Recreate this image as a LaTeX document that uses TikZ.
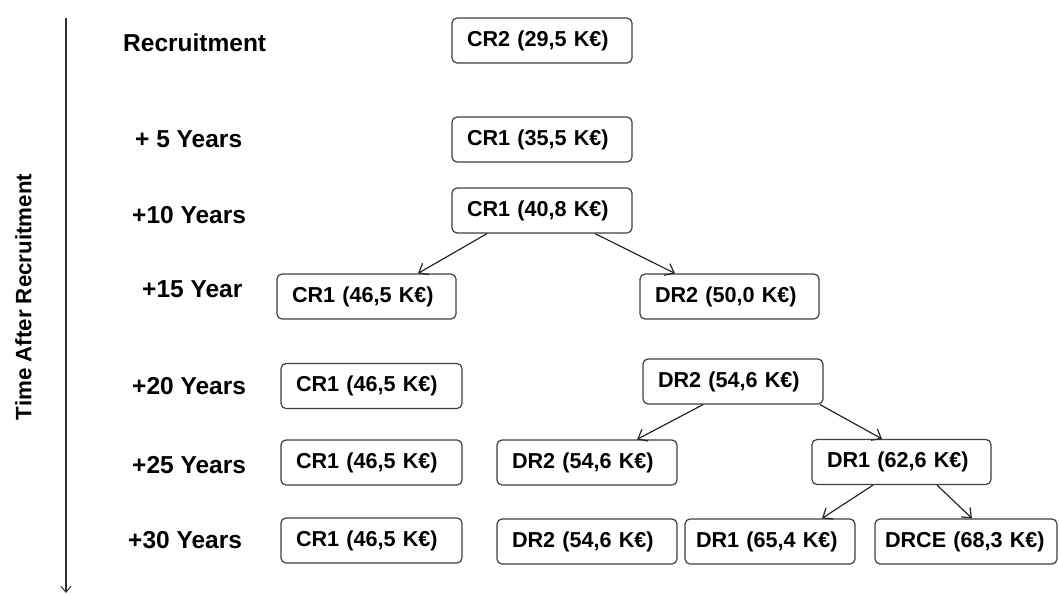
\documentclass[tikz,border=0pt]{standalone}
\usepackage{fontspec}
\setmainfont{Liberation Sans}
\usetikzlibrary{arrows.meta}
\begin{document}
\begin{tikzpicture}[x=1pt,y=-1pt,
  every node/.style={font=\bfseries},
  box/.style={draw=black!75, line width=1.2pt, rounded corners=5pt, fill=white,
    minimum height=45pt, inner ysep=0pt, inner xsep=15pt, text width=#1, align=left,
    font=\fontsize{21.6}{24}\selectfont\bfseries},
  box/.default=150pt,
  lbl/.style={anchor=base west, inner sep=0pt, font=\fontsize{24.5}{28}\selectfont\bfseries},
  conn/.style={draw=black!85, line width=1.2pt, -{Straight Barb[length=8pt,width=13pt,line width=1.2pt]}},
  axis/.style={draw=black!80, line width=1.2pt, -{Straight Barb[length=6pt,width=10pt,line width=1pt]}}
]
\useasboundingbox (0,0) rectangle (1059,594);

% axis
\coordinate (axtop) at (66,18);
\coordinate (axbot) at (66,593);
\draw[axis] (axtop) -- (axbot);
\node[rotate=90, inner sep=0pt, font=\fontsize{22.3}{26}\selectfont\bfseries] (axlbl) at (23.5,297) {Time After Recruitment};

% row labels
\node[lbl] (l0)  at (123,52)  {Recruitment};
\node[lbl] (l5)  at (135,147) {+ 5 Years};
\node[lbl] (l10) at (132,223) {+10 Years};
\node[lbl] (l15) at (142,297) {+15 Year};
\node[lbl] (l20) at (132,394) {+20 Years};
\node[lbl] (l25) at (132,473) {+25 Years};
\node[lbl] (l30) at (128,548) {+30 Years};

% boxes
\node[box] (r0)  at (542,40.5)   {CR2 (29,5 K€)};
\node[box] (r5)  at (542,139.5)  {CR1 (35,5 K€)};
\node[box] (r10) at (542,210.5)  {CR1 (40,8 K€)};
\node[box=149pt] (a15) at (366.5,296.5) {CR1 (46,5 K€)};
\node[box=149pt] (b15) at (729.5,296.5) {DR2 (50,0 K€)};
\node[box=151pt] (a20) at (371.5,386)   {CR1 (46,5 K€)};
\node[box] (b20) at (733,381.5)  {DR2 (54,6 K€)};
\node[box=151pt] (a25) at (371.5,462.5) {CR1 (46,5 K€)};
\node[box] (b25) at (587,462.5)  {DR2 (54,6 K€)};
\node[box=149pt] (c25) at (901.5,462) {DR1 (62,6 K€)};
\node[box=151pt] (a30) at (371.5,540.5) {CR1 (46,5 K€)};
\node[box] (b30) at (587,541.5)  {DR2 (54,6 K€)};
\node[box=148pt, inner xsep=11pt] (c30) at (770,541.5) {DR1 (65,4 K€)};
\node[box=162pt, inner xsep=10pt] (d30) at (966,541.5) {DRCE (68,3 K€)};

% connectors
\draw[conn] ([xshift=-55pt]r10.south) -- ([xshift=51.5pt]a15.north);
\draw[conn] ([xshift=53pt]r10.south)  -- ([xshift=-54.5pt]b15.north);
\draw[conn] ([xshift=-30pt]b20.south) -- ([xshift=50pt]b25.north);
\draw[conn] ([xshift=87pt]b20.south)  -- ([xshift=-19.5pt]c25.north);
\draw[conn] ([xshift=-28.5pt]c25.south) -- ([xshift=52pt]c30.north);
\draw[conn] ([xshift=35.5pt]c25.south)  -- ([xshift=6pt]d30.north);
\end{tikzpicture}
\end{document}
